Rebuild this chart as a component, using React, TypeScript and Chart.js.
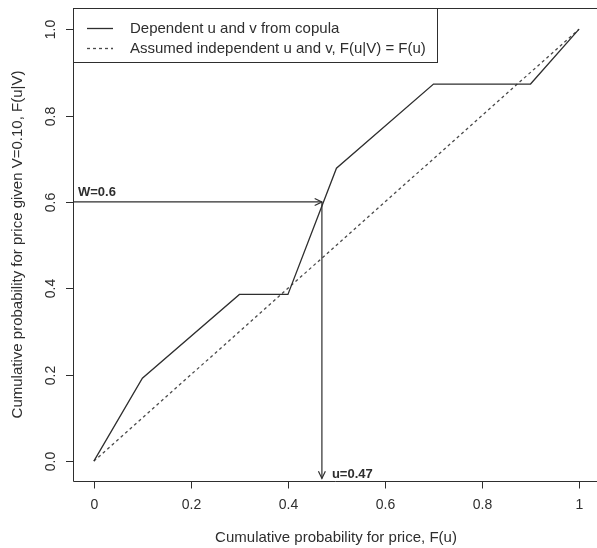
import { useEffect, useRef } from "react";
import { Chart, registerables } from "chart.js";

Chart.register(...registerables);

// ---- data ----
const copulaX = [0, 0.1, 0.3, 0.4, 0.5, 0.7, 0.9, 1];
const copulaY = [0, 0.192, 0.386, 0.386, 0.678, 0.873, 0.873, 1];
const indepX = [0, 1];
const indepY = [0, 1];
const xTicks = [0, 0.2, 0.4, 0.6, 0.8, 1];
const xTickLabels = ["0", "0.2", "0.4", "0.6", "0.8", "1"];
const yTicks = [0, 0.2, 0.4, 0.6, 0.8, 1];
const yTickLabels = ["0.0", "0.2", "0.4", "0.6", "0.8", "1.0"];
const wValue = 0.6;
const uValue = 0.47;
const wLabel = "W=0.6";
const uLabel = "u=0.47";
const seriesLabels = [
  "Dependent u and v from copula",
  "Assumed independent u and v, F(u|V) = F(u)",
];
const xTitle = "Cumulative probability for price, F(u)";
const yTitle = "Cumulative probability for price given V=0.10, F(u|V)";

const X_MIN = -0.043;
const X_MAX = 1.037;
const Y_MIN = -0.046;
const Y_MAX = 1.049;

const INK = "#2e2e2e";
const FONT = "Liberation Sans, Arial, sans-serif";

function arrowHead(ctx: CanvasRenderingContext2D, x: number, y: number, angle: number) {
  const len = 8;
  const spread = Math.PI / 7;
  ctx.beginPath();
  ctx.moveTo(x - len * Math.cos(angle - spread), y - len * Math.sin(angle - spread));
  ctx.lineTo(x, y);
  ctx.lineTo(x - len * Math.cos(angle + spread), y - len * Math.sin(angle + spread));
  ctx.stroke();
}

const decorPlugin = {
  id: "decor",
  afterDraw(chart: any) {
    const ctx: CanvasRenderingContext2D = chart.ctx;
    const { left, top, bottom, right } = chart.chartArea;
    const xs = chart.scales.x;
    const ys = chart.scales.y;
    ctx.save();
    ctx.strokeStyle = INK;
    ctx.fillStyle = INK;
    ctx.lineWidth = 1;

    // plot box (right side cropped)
    ctx.beginPath();
    ctx.moveTo(right + 2, top + 0.5);
    ctx.lineTo(left + 0.5, top + 0.5);
    ctx.lineTo(left + 0.5, bottom + 0.5);
    ctx.lineTo(right + 2, bottom + 0.5);
    ctx.stroke();

    // x ticks
    ctx.font = `14px ${FONT}`;
    ctx.textAlign = "center";
    ctx.textBaseline = "middle";
    xTicks.forEach((t, i) => {
      const px = Math.round(xs.getPixelForValue(t)) + 0.5;
      ctx.beginPath();
      ctx.moveTo(px, bottom + 0.5);
      ctx.lineTo(px, bottom + 7.5);
      ctx.stroke();
      ctx.fillText(xTickLabels[i], px, bottom + 24);
    });

    // y ticks
    yTicks.forEach((t, i) => {
      const py = Math.round(ys.getPixelForValue(t)) + 0.5;
      ctx.beginPath();
      ctx.moveTo(left + 0.5, py);
      ctx.lineTo(left - 7, py);
      ctx.stroke();
      ctx.save();
      ctx.translate(left - 22, py);
      ctx.rotate(-Math.PI / 2);
      ctx.fillText(yTickLabels[i], 0, 0);
      ctx.restore();
    });

    // axis titles
    ctx.font = `15px ${FONT}`;
    ctx.fillText(xTitle, (left + right + 2) / 2, bottom + 57);
    ctx.save();
    ctx.translate(left - 55, (top + bottom) / 2);
    ctx.rotate(-Math.PI / 2);
    ctx.fillText(yTitle, 0, 0);
    ctx.restore();

    // arrows
    const ax = xs.getPixelForValue(uValue);
    const ay = ys.getPixelForValue(wValue);
    const x0 = xs.getPixelForValue(X_MIN);
    const yb = ys.getPixelForValue(-0.04);
    ctx.lineWidth = 1.2;
    ctx.beginPath();
    ctx.moveTo(x0, ay);
    ctx.lineTo(ax, ay);
    ctx.stroke();
    arrowHead(ctx, ax, ay, 0);
    ctx.beginPath();
    ctx.moveTo(ax, ay);
    ctx.lineTo(ax, yb);
    ctx.stroke();
    arrowHead(ctx, ax, yb, Math.PI / 2);

    ctx.font = `bold 13px ${FONT}`;
    ctx.textAlign = "left";
    ctx.textBaseline = "alphabetic";
    ctx.fillText(wLabel, left + 5, ay - 6);
    ctx.fillText(uLabel, ax + 10, yb);

    // legend
    ctx.lineWidth = 1;
    const lx = left + 0.5;
    const ly = top + 0.5;
    const lw = 364;
    const lh = 54;
    ctx.fillStyle = "#ffffff";
    ctx.fillRect(lx, ly, lw, lh);
    ctx.strokeStyle = INK;
    ctx.strokeRect(lx, ly, lw, lh);
    ctx.fillStyle = INK;
    ctx.font = `15px ${FONT}`;
    ctx.textBaseline = "middle";
    const rows = [top + 20, top + 40];
    chart.data.datasets.forEach((ds: any, i: number) => {
      const yy = Math.round(rows[i]) + 0.5;
      ctx.save();
      ctx.strokeStyle = ds.borderColor;
      ctx.lineWidth = ds.borderWidth;
      ctx.setLineDash(ds.borderDash || []);
      ctx.beginPath();
      ctx.moveTo(left + 14, yy);
      ctx.lineTo(left + 40, yy);
      ctx.stroke();
      ctx.restore();
      ctx.fillText(ds.label, left + 57, yy);
    });
    ctx.restore();
  },
};

export default function App() {
  const ref = useRef<HTMLCanvasElement | null>(null);
  useEffect(() => {
    if (!ref.current) return;
    const chart = new Chart(ref.current, {
      type: "line",
      data: {
        datasets: [
          {
            label: seriesLabels[0],
            data: copulaX.map((x, i) => ({ x, y: copulaY[i] })),
            borderColor: "#2e2e2e",
            borderWidth: 1.3,
            pointRadius: 0,
            fill: false,
            tension: 0,
          },
          {
            label: seriesLabels[1],
            data: indepX.map((x, i) => ({ x, y: indepY[i] })),
            borderColor: "#4a4a4a",
            borderWidth: 1.3,
            borderDash: [3, 3],
            pointRadius: 0,
            fill: false,
            tension: 0,
          },
        ],
      },
      options: {
        animation: false,
        responsive: false,
        devicePixelRatio: 1,
        layout: { padding: { left: 73, top: 8, right: 0, bottom: 67 } },
        plugins: { legend: { display: false }, tooltip: { enabled: false }, title: { display: false } },
        scales: {
          x: { type: "linear", min: X_MIN, max: X_MAX, display: false },
          y: { type: "linear", min: Y_MIN, max: Y_MAX, display: false },
        },
      },
      plugins: [decorPlugin],
    });
    return () => chart.destroy();
  }, []);
  return (
    <div style={{ position: "fixed", left: 0, top: 0, width: 597, height: 548, background: "#fff" }}>
      <canvas ref={ref} width={597} height={548} style={{ display: "block" }} />
    </div>
  );
}
